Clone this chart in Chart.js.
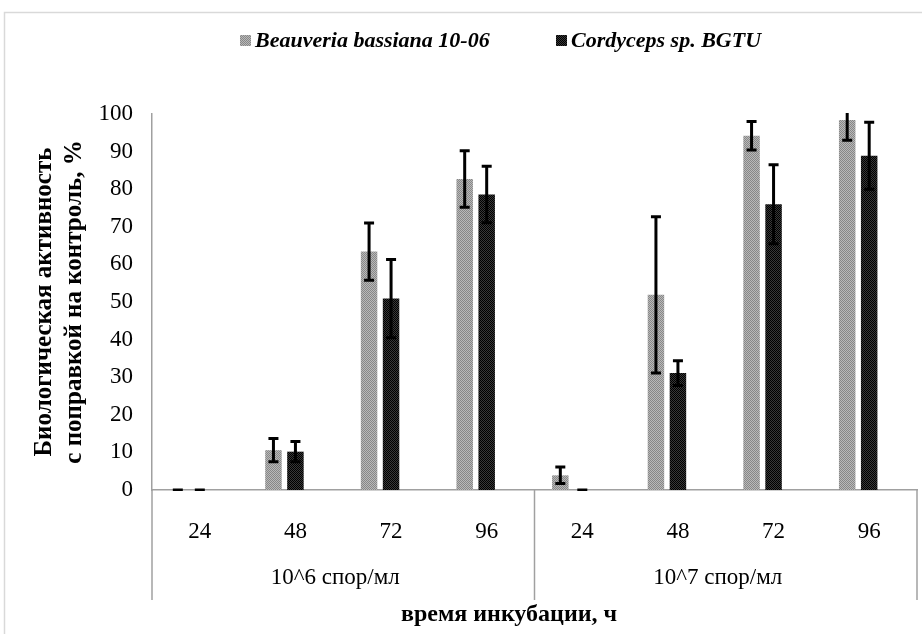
<!DOCTYPE html>
<html>
<head>
<meta charset="utf-8">
<script src="https://cdn.jsdelivr.net/npm/chart.js@4"></script>
<style>
    body { margin: 0; background: #fff; }
    #wrap { width: 922px; height: 634px; }
</style>
</head>
<body>
<div id="wrap"><canvas id="chart" width="922" height="634"></canvas></div>
<script>
const hours = ['24', '48', '72', '96', '24', '48', '72', '96'];
const groups = ['10^6 спор/мл', '10^7 спор/мл'];
const seriesNames = ['Beauveria bassiana 10-06', 'Cordyceps sp. BGTU'];
const beauveria = [0, 10.6, 63.4, 82.7, 3.9, 51.9, 94.2, 98.4];
const beauveriaErr = [0, 3.1, 7.6, 7.5, 2.2, 20.8, 3.8, 5.4];
const cordyceps = [0, 10.2, 50.9, 78.6, 0, 31.1, 76.0, 88.9];
const cordycepsErr = [0, 2.7, 10.4, 7.5, 0, 3.3, 10.5, 8.9];
const yTitle = ['Биологическая активность', 'с поправкой на контроль, %'];
const xTitle = 'время инкубации, ч';

const serif = "'Liberation Serif', 'Times New Roman', serif";

function makePattern(c1, c2) {
    const p = document.createElement('canvas');
    p.width = 4; p.height = 4;
    const pc = p.getContext('2d');
    for (let x = 0; x < 4; x++) {
        for (let y = 0; y < 4; y++) {
            pc.fillStyle = (x + y) % 2 === 0 ? c1 : c2;
            pc.fillRect(x, y, 1, 1);
        }
    }
    return pc.createPattern(p, 'repeat');
}

const grayFill = makePattern('#878787', '#b9b9b9');
const blackFill = makePattern('#000000', '#383838');

// рамка, легенда, разделители групп, подпись оси X и планки погрешностей
const extras = {
    id: 'extras',
    beforeDraw(chart) {
        const ctx = chart.ctx;
        ctx.save();
        ctx.strokeStyle = '#d9d9d9';
        ctx.lineWidth = 1.5;
        ctx.strokeRect(4.5, 12.5, 2000, 2000);
        ctx.restore();
    },
    afterDatasetsDraw(chart) {
        const ctx = chart.ctx;
        const area = chart.chartArea;
        const y = chart.scales.y;
        const errs = [beauveriaErr, cordycepsErr];
        ctx.save();
        ctx.beginPath();
        ctx.rect(area.left, area.top - 1, area.right - area.left, area.bottom - area.top + 2);
        ctx.clip();
        ctx.strokeStyle = '#000';
        ctx.lineWidth = 3;
        [0, 1].forEach(i => {
            const meta = chart.getDatasetMeta(i);
            const vals = chart.data.datasets[i].data;
            meta.data.forEach((bar, j) => {
                const hi = y.getPixelForValue(vals[j] + errs[i][j]);
                const lo = y.getPixelForValue(vals[j] - errs[i][j]);
                ctx.beginPath();
                ctx.moveTo(bar.x, hi); ctx.lineTo(bar.x, lo);
                ctx.moveTo(bar.x - 5, hi); ctx.lineTo(bar.x + 5, hi);
                ctx.moveTo(bar.x - 5, lo); ctx.lineTo(bar.x + 5, lo);
                ctx.stroke();
            });
        });
        ctx.restore();
    },
    afterDraw(chart) {
        const ctx = chart.ctx;
        const area = chart.chartArea;
        const x = chart.scales.x;
        const n = hours.length / groups.length;
        const step = (area.right - area.left) / hours.length;
        ctx.save();
        // разделители
        ctx.strokeStyle = '#a0a0a0';
        ctx.lineWidth = 1.5;
        for (let g = 0; g <= groups.length; g++) {
            const px = area.left + g * n * step;
            ctx.beginPath();
            ctx.moveTo(px, area.bottom);
            ctx.lineTo(px, 600);
            ctx.stroke();
        }
        // подписи групп
        ctx.fillStyle = '#000';
        ctx.font = '23px ' + serif;
        ctx.textAlign = 'center';
        ctx.textBaseline = 'middle';
        groups.forEach((g, i) => {
            const cx = (x.getPixelForValue(i * n) + x.getPixelForValue(i * n + n - 1)) / 2;
            ctx.fillText(g, cx - 8, 578);
        });
        // подпись оси X
        ctx.font = 'bold 24px ' + serif;
        ctx.fillText(xTitle, 509, 615);
        // легенда
        ctx.font = 'italic bold 22px ' + serif;
        ctx.textAlign = 'left';
        const fills = [grayFill, blackFill];
        const starts = [240, 556];
        seriesNames.forEach((s, i) => {
            ctx.fillStyle = fills[i];
            ctx.fillRect(starts[i], 35, 11, 11);
            ctx.fillStyle = '#000';
            ctx.fillText(s, starts[i] + 15, 41);
        });
        ctx.restore();
    }
};

new Chart(document.getElementById('chart'), {
    type: 'bar',
    data: {
        labels: hours,
        datasets: [
            { label: seriesNames[0], data: beauveria, backgroundColor: grayFill },
            { label: seriesNames[1], data: cordyceps, backgroundColor: blackFill },
            { label: '', data: hours.map(() => null) }
        ]
    },
    options: {
        responsive: false,
        animation: false,
        devicePixelRatio: 1,
        categoryPercentage: 0.69,
        barPercentage: 0.75,
        layout: { padding: { top: 114, right: 5, left: 0, bottom: 0 } },
        plugins: {
            legend: { display: false },
            tooltip: { enabled: false }
        },
        scales: {
            x: {
                grid: { display: false, drawTicks: false },
                border: { display: true, color: '#a0a0a0', width: 1.5 },
                ticks: { color: '#000', font: { family: serif, size: 23 }, padding: 28, maxRotation: 0 },
                afterFit(scale) { scale.height = 144; }
            },
            y: {
                min: 0, max: 100,
                grid: { display: false, drawTicks: false },
                border: { display: true, color: '#a0a0a0', width: 1.5 },
                ticks: { stepSize: 10, color: '#000', font: { family: serif, size: 23 }, padding: 19 },
                title: {
                    display: true, text: yTitle, color: '#000',
                    font: { family: serif, size: 25, weight: 'bold', lineHeight: 1.2 },
                    padding: { top: 30, bottom: 0 }
                },
                afterFit(scale) { scale.width = 152; }
            }
        }
    },
    plugins: [extras]
});
</script>
</body>
</html>
